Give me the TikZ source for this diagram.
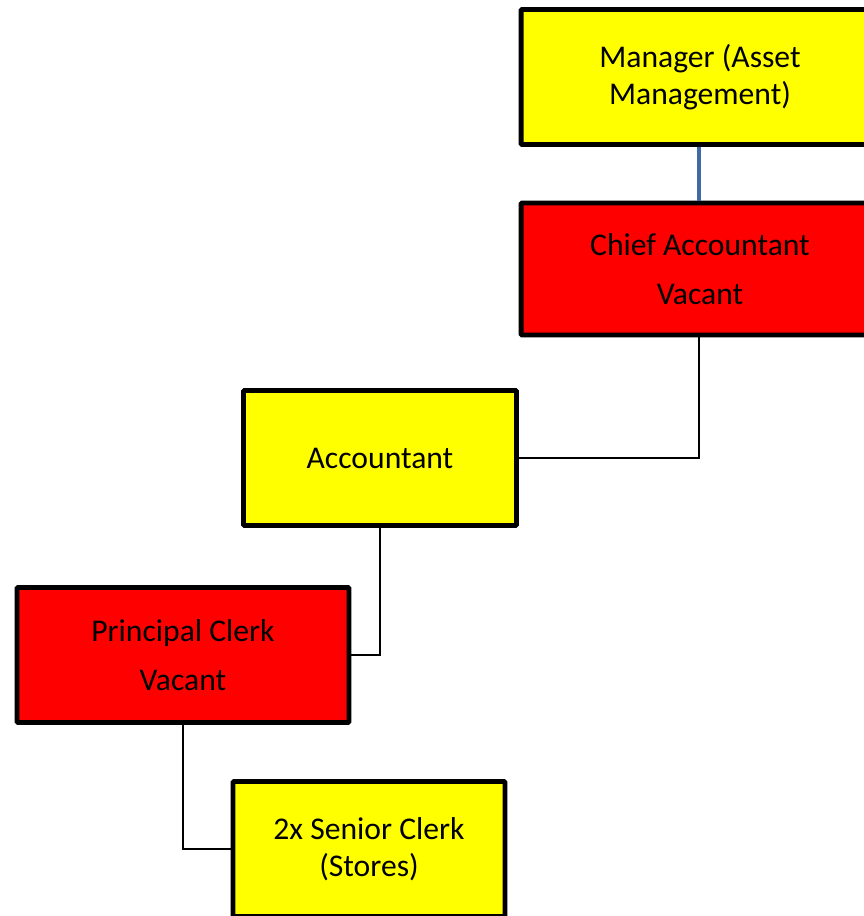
\documentclass[tikz,border=0pt]{standalone}
\usepackage{fontspec}
\setmainfont{Carlito}
\usepackage{tikz}
\usetikzlibrary{positioning,calc}
\usepackage{xcolor}
\definecolor{postyellow}{RGB}{255,255,0}
\definecolor{postred}{RGB}{255,0,0}
\definecolor{linkblue}{RGB}{65,105,165}
\tikzset{
  post/.style={draw=black,line width=2.8pt,rounded corners=0.6pt,minimum width=5.46cm,minimum height=2.7cm,
    align=center,inner sep=3pt,font=\fontsize{18}{21}\selectfont,fill=postyellow},
  vacant/.style={post,fill=postred},
  headlink/.style={line width=2.6pt,draw=linkblue},
  elbow/.style={line width=0.9pt,draw=black}
}

\begin{document}
\begin{tikzpicture}[x=0.02cm,y=-0.02cm]
  \useasboundingbox (0,0) rectangle (864,916);
  \node[post,minimum width=7.16cm] (mgr) at (700,77) {Manager (Asset\\Management)};
  \node[vacant,minimum width=7.16cm,minimum height=2.64cm] (chief) at (700,269) {Chief Accountant\\[7pt]Vacant};
  \node[post] (acct) at (380,458) {Accountant};
  \node[vacant,minimum width=6.64cm] (pclerk) at (183,655) {Principal Clerk\\[7pt]Vacant};
  \node[post,minimum width=5.44cm] (sclerk) at (369,849) {2x Senior Clerk\\(Stores)};
  \draw[headlink] (mgr.south -| 699,0) -- (chief.north -| 699,0);
  \draw[elbow] (chief.south -| 699,0) |- (acct.east);
  \draw[elbow] (acct.south) |- (pclerk.east);
  \draw[elbow] (pclerk.south) |- (sclerk.west);
\end{tikzpicture}
\end{document}
